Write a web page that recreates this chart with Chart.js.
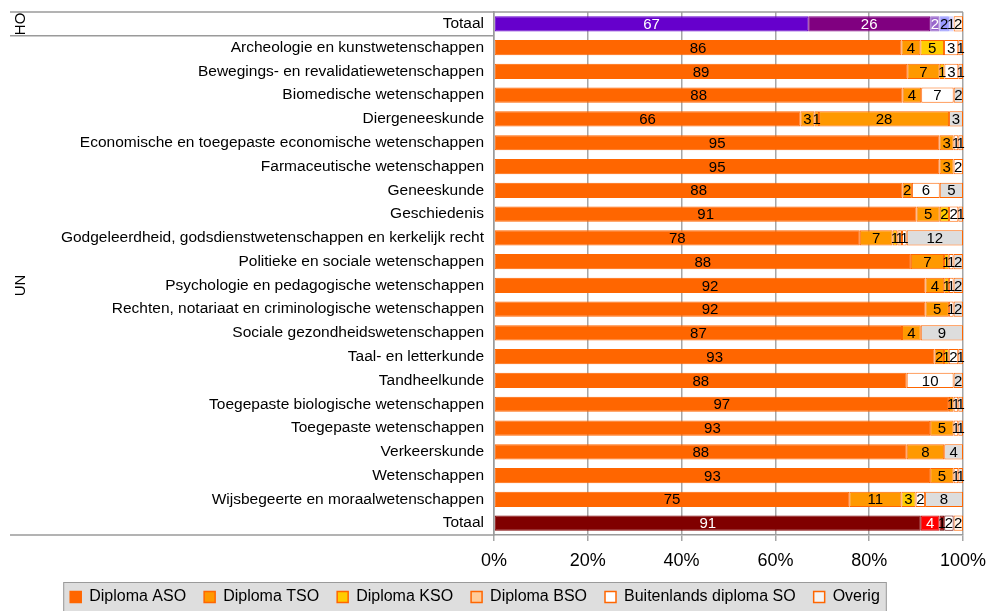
<!DOCTYPE html>
<html>
<head>
<meta charset="utf-8">
<script src="https://cdn.jsdelivr.net/npm/chart.js@4.4.0/dist/chart.umd.min.js"></script>
<style>
  html, body { margin: 0; padding: 0; background: #fff; }
  #wrap { width: 995px; height: 611px; }
</style>
</head>
<body>
<div id="wrap"><canvas id="chart" width="995" height="611"></canvas></div>
<script>
// ===== Data =====
const categories = [
  'Totaal',
  'Archeologie en kunstwetenschappen',
  'Bewegings- en revalidatiewetenschappen',
  'Biomedische wetenschappen',
  'Diergeneeskunde',
  'Economische en toegepaste economische wetenschappen',
  'Farmaceutische wetenschappen',
  'Geneeskunde',
  'Geschiedenis',
  'Godgeleerdheid, godsdienstwetenschappen en kerkelijk recht',
  'Politieke en sociale wetenschappen',
  'Psychologie en pedagogische wetenschappen',
  'Rechten, notariaat en criminologische wetenschappen',
  'Sociale gezondheidswetenschappen',
  'Taal- en letterkunde',
  'Tandheelkunde',
  'Toegepaste biologische wetenschappen',
  'Toegepaste wetenschappen',
  'Verkeerskunde',
  'Wetenschappen',
  'Wijsbegeerte en moraalwetenschappen',
  'Totaal'
];

const seriesNames = ['Diploma ASO', 'Diploma TSO', 'Diploma KSO', 'Diploma BSO', 'Buitenlands diploma SO', 'Overig'];

const aso         = [67, 86, 89, 88, 66, 95, 95, 88, 91, 78, 88, 92, 92, 87, 93, 88, 97, 93, 88, 93, 75, 91];
const tso         = [26,  4,  7,  4,  3,  3,  3,  2,  5,  7,  7,  4,  5,  4,  2,  0,  1,  5,  8,  5, 11,  4];
const kso         = [ 2,  5,  1,  0,  0,  0,  0,  0,  2,  1,  1,  1,  0,  0,  1,  0,  0,  0,  0,  0,  3,  1];
const bso         = [ 2,  0,  0,  0,  1,  0,  0,  0,  0,  1,  0,  0,  0,  0,  0,  0,  0,  0,  0,  0,  0,  0];
const buitenlands = [ 1,  3,  3,  7, 28,  1,  2,  6,  2,  1,  1,  1,  1,  0,  2, 10,  1,  1,  0,  1,  2,  2];
const overig      = [ 2,  1,  1,  2,  3,  1,  0,  5,  1, 12,  2,  2,  2,  9,  1,  2,  1,  1,  4,  1,  8,  2];

const xTicks = [0, 20, 40, 60, 80, 100];

const groups = [
  { label: 'HO', from: 0, to: 0 },
  { label: 'UN', from: 1, to: 21 }
];

// ===== Colours =====
const baseFill = ['#FF6600', '#FF9900', '#FFCC00', '#FFCC99', '#FFFFFF', '#DDDDDD'];
const baseBorder = '#FF6600';
// special rows: Totaal HO (0) and Totaal UN (21)
const rowFill = {
  0: ['#6600CC', '#800080', '#9966CC', '#9999FF', '#CCCCFF', '#FFF2E6'],
  21: ['#800000', '#FF0000', '#990000', '#CC0000', '#FFFFFF', '#FFF2E6']
};
const rowBorder = {
  0: ['#6600CC', '#800080', '#9966CC', '#9999FF', '#CCCCFF', '#FF6600'],
  21: ['#800000', '#CC0000', '#660000', '#660000', '#660000', '#FF6600']
};
const fillOverrides = { 4: { 3: '#FF9900', 4: '#FF9900' } };
const whiteLabels = { 0: [0, 1, 2], 21: [0, 1] };

const seriesValues = [aso, tso, kso, bso, buitenlands, overig];
const rowTotals = categories.map((_, i) => seriesValues.reduce((s, arr) => s + arr[i], 0));

const FONT = '"Liberation Sans", Arial, sans-serif';
Chart.defaults.font.family = FONT;
Chart.defaults.color = '#000';

function fillFor(si, i) {
  if (fillOverrides[i] && fillOverrides[i][si]) return fillOverrides[i][si];
  return rowFill[i] ? rowFill[i][si] : baseFill[si];
}
function borderFor(si, i) {
  return rowBorder[i] ? rowBorder[i][si] : baseBorder;
}

const datasets = seriesValues.map((vals, si) => ({
  label: seriesNames[si],
  values: vals,
  data: vals.map((v, i) => v / rowTotals[i] * 100),
  backgroundColor: categories.map((_, i) => fillFor(si, i)),
  borderColor: categories.map((_, i) => borderFor(si, i)),
  borderWidth: 1,
  borderSkipped: false,
  barPercentage: 0.64,
  categoryPercentage: 1
}));

// ===== Plugins =====
const segmentLabels = {
  id: 'segmentLabels',
  afterDatasetsDraw(chart) {
    const ctx = chart.ctx;
    ctx.save();
    ctx.font = '15px ' + FONT;
    ctx.textAlign = 'center';
    ctx.textBaseline = 'middle';
    chart.data.datasets.forEach((ds, di) => {
      chart.getDatasetMeta(di).data.forEach((bar, i) => {
        const v = ds.values[i];
        if (!v) return;
        ctx.fillStyle = (whiteLabels[i] || []).includes(di) ? '#FFFFFF' : '#000000';
        ctx.fillText(String(v), (bar.x + bar.base) / 2, bar.y + 1);
      });
    });
    ctx.restore();
  }
};

const groupFrame = {
  id: 'groupFrame',
  afterLayout(chart) {
    // legend sits right under the x-axis labels, a little left of centre
    const lg = chart.legend;
    const h = lg.height;
    lg.top = chart.scales.x.bottom;
    lg.bottom = lg.top + h;
    lg.left -= 9;
    lg.right -= 9;
  },
  beforeDraw(chart) {
    const boxes = chart.legend.legendHitBoxes || [];
    if (!boxes.length) return;
    const ctx = chart.ctx;
    const left = Math.min(...boxes.map(b => b.left)) - 7;
    const right = Math.max(...boxes.map(b => b.left + b.width)) + 7;
    const top = boxes[0].top - 7;
    const h = boxes[0].height + 14;
    ctx.save();
    ctx.fillStyle = '#DEDEDE';
    ctx.fillRect(left, top, right - left, h);
    ctx.strokeStyle = '#9A9A9A';
    ctx.lineWidth = 1;
    ctx.strokeRect(left + 0.5, top + 0.5, right - left - 1, h - 1);
    ctx.restore();
  },
  afterDraw(chart) {
    const { ctx, chartArea: a, scales: { y } } = chart;
    const edge = i => (y.getPixelForValue(i) + y.getPixelForValue(i + 1)) / 2;
    const x0 = 10;
    ctx.save();
    ctx.strokeStyle = '#9A9A9A';
    ctx.lineWidth = 1.5;
    ctx.beginPath();
    ctx.moveTo(x0, a.top); ctx.lineTo(a.right, a.top);
    groups.slice(0, -1).forEach(g => {
      const yy = edge(g.to);
      ctx.moveTo(x0, yy); ctx.lineTo(a.left, yy);
    });
    ctx.moveTo(x0, a.bottom); ctx.lineTo(a.left, a.bottom);
    ctx.stroke();

    ctx.fillStyle = '#000';
    ctx.font = '15px ' + FONT;
    ctx.textAlign = 'center';
    ctx.textBaseline = 'middle';
    groups.forEach(g => {
      const t = g.from === 0 ? a.top : edge(g.from - 1);
      const b = g.to === categories.length - 1 ? a.bottom : edge(g.to);
      ctx.save();
      ctx.translate(21, (t + b) / 2);
      ctx.rotate(-Math.PI / 2);
      ctx.fillText(g.label, 0, 0);
      ctx.restore();
    });
    ctx.restore();
  }
};

// ===== Chart =====
new Chart(document.getElementById('chart'), {
  type: 'bar',
  data: { labels: categories, datasets: datasets },
  options: {
    indexAxis: 'y',
    responsive: false,
    animation: false,
    layout: { padding: { top: 12, right: 27, bottom: -4, left: 0 } },
    plugins: {
      tooltip: { enabled: false },
      legend: {
        position: 'bottom',
        labels: {
          boxWidth: 11,
          boxHeight: 11,
          padding: 18,
          font: { size: 16 },
          generateLabels: () => seriesNames.map((name, si) => ({
            text: name,
            fillStyle: baseFill[si] === '#DDDDDD' ? '#F4F4F4' : baseFill[si],
            strokeStyle: baseBorder,
            lineWidth: 1.5,
            hidden: false,
            datasetIndex: si
          }))
        }
      }
    },
    scales: {
      x: {
        stacked: true,
        min: 0,
        max: 100,
        afterBuildTicks: scale => { scale.ticks = xTicks.map(v => ({ value: v })); },
        afterFit: scale => { scale.height = 36; },
        ticks: { callback: v => v + '%', font: { size: 18 }, padding: 9, maxRotation: 0 },
        grid: { color: '#A6A6A6', lineWidth: 1.5, tickLength: 6 },
        border: { color: '#9A9A9A', width: 1.5 }
      },
      y: {
        stacked: true,
        afterFit: scale => { scale.width = 494; scale.paddingTop = 0; scale.paddingBottom = 0; },
        ticks: { font: { size: 15.5 }, padding: 10, autoSkip: false },
        grid: { display: false, drawTicks: false },
        border: { color: '#9A9A9A', width: 1.5 }
      }
    }
  },
  plugins: [segmentLabels, groupFrame]
});
</script>
</body>
</html>
